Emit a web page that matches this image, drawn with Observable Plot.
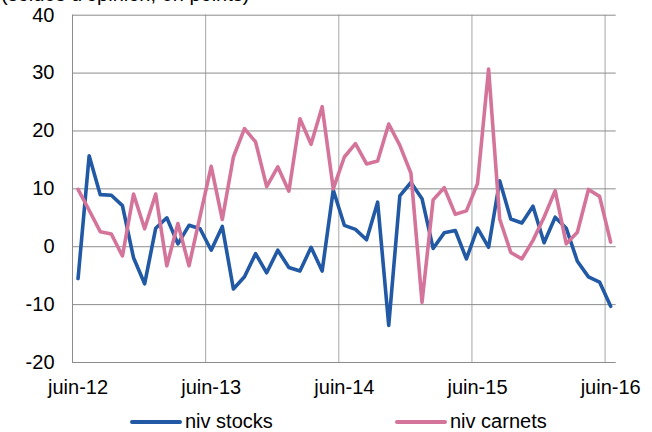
<!DOCTYPE html>
<html><head><meta charset="utf-8">
<script src="https://cdn.jsdelivr.net/npm/d3@7"></script>
<script src="https://cdn.jsdelivr.net/npm/@observablehq/plot@0.6"></script>
<style>
body{margin:0;background:#fff;font-family:"Liberation Sans",Arial,sans-serif;}
#wrap{position:relative;width:652px;height:432px;overflow:hidden;background:#fff;}
#title{position:absolute;left:1px;top:-17px;font-size:20px;line-height:22px;white-space:nowrap;color:#000;}
#chart{position:absolute;left:0;top:0;}
.sw{position:absolute;height:4px;border-radius:2px;}
.lt{position:absolute;font-size:20px;line-height:22px;white-space:nowrap;color:#000;}
</style></head>
<body>
<div id="wrap">
  <div id="chart"></div>
  <div id="title">(soldes d'opinion, en points)</div>
  <div class="sw" id="sw0" style="left:130px;top:419.7px;width:52px;"></div>
  <div class="lt" id="lt0" style="left:185px;top:410px;"></div>
  <div class="sw" id="sw1" style="left:395px;top:419.7px;width:52px;"></div>
  <div class="lt" id="lt1" style="left:450px;top:410px;"></div>
</div>
<script>
const seriesNames = ["niv stocks", "niv carnets"];
const seriesColors = ["#2159a5", "#d5749a"];
const xTickLabels = ["juin-12", "juin-13", "juin-14", "juin-15", "juin-16"];
const xTickIdx = [0, 12, 24, 36, 48];
const yTicks = [-20, -10, 0, 10, 20, 30, 40];
const xGrid = [11.5, 23.5, 35.5, 47.5];

const stocks = [-5.5, 15.7, 9.0, 8.9, 7.1, -1.9, -6.4, 3.2, 5.0, 0.5, 3.7, 3.1,
  -0.6, 3.5, -7.3, -5.2, -1.2, -4.5, -0.6, -3.6, -4.2, -0.1, -4.2, 9.8,
  3.7, 3.0, 1.2, 7.7, -13.6, 8.8, 11.1, 8.3, -0.3, 2.4, 2.8, -2.1,
  3.2, -0.1, 11.4, 4.8, 4.1, 7.0, 0.7, 5.1, 3.2, -2.5, -5.2, -6.1, -10.3];
const carnets = [9.9, 6.3, 2.6, 2.2, -1.6, 9.1, 3.1, 9.1, -3.3, 4.0, -3.3, 5.3,
  13.9, 4.7, 15.5, 20.4, 18.1, 10.4, 13.8, 9.6, 22.1, 17.7, 24.2, 10.0,
  15.5, 17.8, 14.3, 14.8, 21.2, 17.5, 12.7, -9.6, 8.1, 10.2, 5.6, 6.2,
  10.9, 30.7, 4.8, -1.0, -2.1, 1.1, 5.1, 9.7, 0.5, 2.5, 9.9, 8.7, 0.8];

const rows = [];
[stocks, carnets].forEach((arr, s) => arr.forEach((v, i) => rows.push({i, v, s: seriesNames[s]})));

const chart = Plot.plot({
  width: 652, height: 405,
  marginLeft: 72, marginRight: 36.3, marginTop: 14.7, marginBottom: 43,
  x: {type: "linear", domain: [-0.5, 48.5], label: null},
  y: {domain: [-20, 40], label: null},
  color: {domain: seriesNames, range: seriesColors},
  style: {fontFamily: "'Liberation Sans', Arial, sans-serif", fontSize: "20px", color: "#000", background: "#fff", overflow: "visible"},
  marks: [
    Plot.ruleX(xGrid, {y1: -20, y2: 40, stroke: "#a6a6a6", strokeWidth: 1}),
    Plot.ruleY(yTicks, {stroke: "#8c8c8c", strokeWidth: 1}),
    Plot.ruleX([-0.5], {y1: -20, y2: 40, stroke: "#8c8c8c", strokeWidth: 1}),
    Plot.line(rows, {x: "i", y: "v", z: "s", stroke: "s", strokeWidth: 3.6, strokeLinejoin: "round", strokeLinecap: "round"}),
    Plot.axisY(yTicks, {tickSize: 0, tickPadding: 18, fontSize: 20, label: null, tickFormat: d => String(d)}),
    Plot.axisX(xTickIdx, {tickSize: 0, tickPadding: 17.5, fontSize: 20, label: null, tickFormat: d => xTickLabels[xTickIdx.indexOf(d)]})
  ]
});
document.getElementById("chart").appendChild(chart);
seriesNames.forEach((n, k) => {
  document.getElementById("sw" + k).style.background = seriesColors[k];
  document.getElementById("lt" + k).textContent = n;
});
</script>
</body></html>
